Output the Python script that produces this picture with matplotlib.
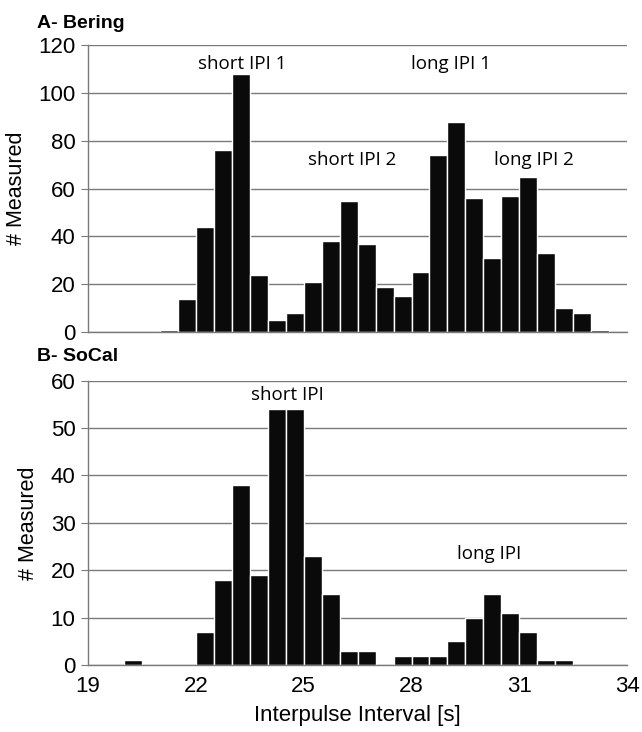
import numpy as np
import matplotlib
matplotlib.use('Agg')
import matplotlib.pyplot as plt

plt.rcParams['font.family'] = ['Liberation Sans', 'DejaVu Sans']

# histogram bin starts (0.5 s bins) and counts
bering_bins = [21.0, 21.5, 22.0, 22.5, 23.0, 23.5, 24.0, 24.5, 25.0, 25.5, 26.0, 26.5,
               27.0, 27.5, 28.0, 28.5, 29.0, 29.5, 30.0, 30.5, 31.0, 31.5, 32.0, 32.5, 33.0]
bering_counts = [1, 14, 44, 76, 108, 24, 5, 8, 21, 38, 55, 37,
                 19, 15, 25, 74, 88, 56, 31, 57, 65, 33, 10, 8, 1]

socal_bins = [20.0, 20.5, 21.0, 21.5, 22.0, 22.5, 23.0, 23.5, 24.0, 24.5, 25.0, 25.5,
              26.0, 26.5, 27.0, 27.5, 28.0, 28.5, 29.0, 29.5, 30.0, 30.5, 31.0, 31.5, 32.0]
socal_counts = [1, 0, 0, 0, 7, 18, 38, 19, 54, 54, 23, 15,
                3, 3, 0, 2, 2, 2, 5, 10, 15, 11, 7, 1, 1]

x_ticks = [19, 22, 25, 28, 31, 34]
bering_yticks = [0, 20, 40, 60, 80, 100, 120]
socal_yticks = [0, 10, 20, 30, 40, 50, 60]

bering_notes = [('short IPI 1', 23.3, 112), ('long IPI 1', 29.1, 112),
                ('short IPI 2', 26.35, 72), ('long IPI 2', 31.4, 72)]
socal_notes = [('short IPI', 24.55, 57), ('long IPI', 30.15, 23.5)]

bar_color = '#0a0a0a'
grid_color = '#7a7a7a'
note_font = ['Open Sans', 'DejaVu Sans']

fig = plt.figure(figsize=(6.42, 7.32), dpi=100)
ax1 = fig.add_axes([0.137, 0.5464, 0.840, 0.392])
ax2 = fig.add_axes([0.137, 0.0915, 0.840, 0.3885])


def style_axis(ax, yticks):
    ax.set_xlim(19, 34)
    ax.set_ylim(yticks[0], yticks[-1])
    ax.set_yticks(yticks)
    ax.yaxis.grid(True, color=grid_color, linewidth=1.0)
    ax.set_axisbelow(True)
    for s in ['top', 'right']:
        ax.spines[s].set_visible(False)
    for s in ['left', 'bottom']:
        ax.spines[s].set_color(grid_color)
        ax.spines[s].set_linewidth(1.0)
    ax.tick_params(axis='y', direction='out', length=5, color=grid_color, labelsize=16, pad=4)
    ax.set_ylabel('# Measured', fontsize=15.5, labelpad=8)


ax1.bar(bering_bins, bering_counts, width=0.5, align='edge', color=bar_color,
        edgecolor='white', linewidth=1.0)
style_axis(ax1, bering_yticks)
ax1.set_xticks([])
for txt, x, y in bering_notes:
    ax1.text(x, y, txt, ha='center', va='center', fontsize=13.5, family=note_font)
ax1.text(-0.095, 1.045, 'A- Bering', transform=ax1.transAxes, fontsize=14,
         fontweight='bold', ha='left', va='bottom')

ax2.bar(socal_bins, socal_counts, width=0.5, align='edge', color=bar_color,
        edgecolor='white', linewidth=1.0)
style_axis(ax2, socal_yticks)
ax2.set_xticks(x_ticks)
ax2.tick_params(axis='x', length=0, labelsize=16, pad=8)
for txt, x, y in socal_notes:
    ax2.text(x, y, txt, ha='center', va='center', fontsize=13.5, family=note_font)
ax2.text(-0.095, 1.055, 'B- SoCal', transform=ax2.transAxes, fontsize=14,
         fontweight='bold', ha='left', va='bottom')
ax2.set_xlabel('Interpulse Interval [s]', fontsize=16, labelpad=6)

fig.savefig('out.png', dpi=100)
